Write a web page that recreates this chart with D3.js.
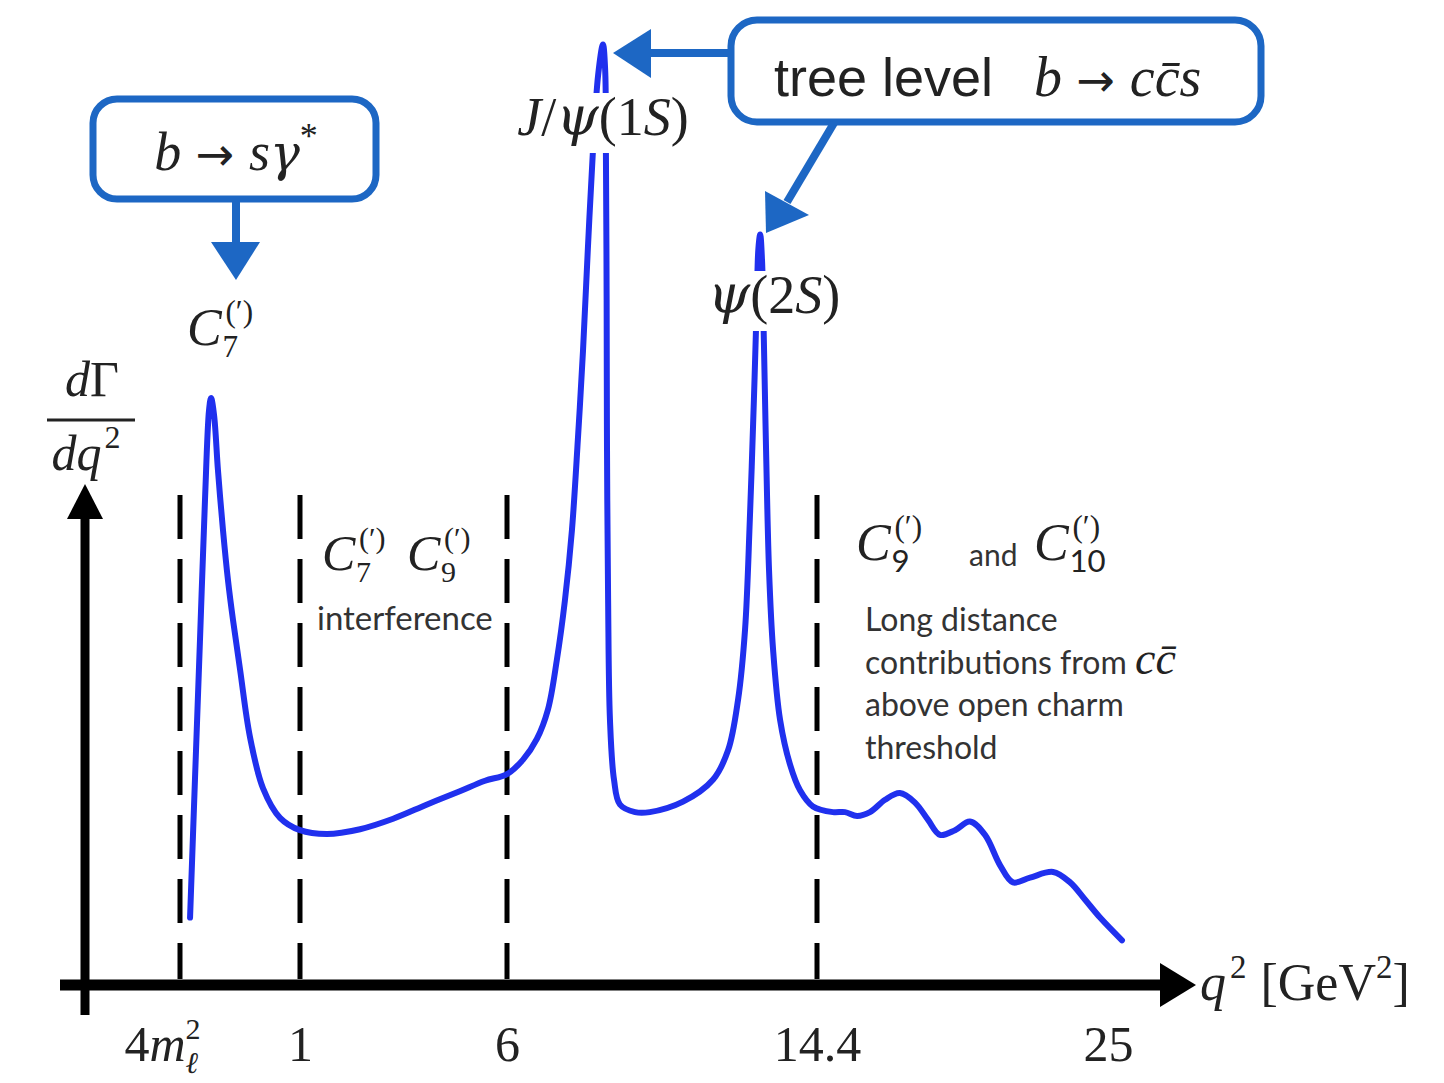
<!DOCTYPE html>
<html>
<head>
<meta charset="utf-8">
<script src="https://cdn.jsdelivr.net/npm/d3@7"></script>
<style>
  body { margin: 0; background: #fff; }
  .math { font-family: "Liberation Serif", serif; font-style: italic; fill: #222; }
  .greek { font-family: "DejaVu Serif", serif; font-style: italic; fill: #222; }
  .rm { font-family: "Liberation Serif", serif; font-style: normal; fill: #222; }
  .arr { font-family: "DejaVu Sans", sans-serif; font-style: normal; fill: #222; }
  .sans { font-family: "Lato", sans-serif; fill: #333; }
</style>
</head>
<body>
<div class="chart"></div>
<script>
// q^2 positions of the tick marks (not to scale in the sketch)
var tickQ2 = [0.045, 1, 6, 14.4, 25];
var tickLabels = ["4m", "1", "6", "14.4", "25"];
var binEdges = [0.045, 1, 6, 14.4];

// schematic dGamma/dq^2 curve (arbitrary units 0-100)
var q2 = [0.125, 0.164, 0.204, 0.244, 0.276, 0.292, 0.316, 0.347, 0.387, 0.427, 0.467, 0.523, 0.602, 0.706, 0.841,
  1.0, 1.65, 2.45, 3.25, 4.07, 4.86, 5.47, 6.0,
  6.43, 6.81, 7.11, 7.35, 7.57, 7.76, 7.92, 8.06, 8.19, 8.33, 8.47, 8.60,
  8.66, 8.68, 8.70, 8.71, 8.74, 8.79, 8.90, 9.06, 9.47, 9.87, 10.77, 11.58,
  11.99, 12.26, 12.45, 12.58, 12.69, 12.77, 12.81, 12.86,
  12.91, 12.96, 13.02, 13.10, 13.21, 13.40, 13.67, 13.94, 14.29,
  14.98, 15.42, 15.86, 16.33, 16.88, 17.42, 17.97, 18.44, 18.88, 19.43, 19.97, 20.52,
  21.07, 21.54, 22.16, 23.00, 23.62, 24.16, 24.71, 25.51];
var rate = [7.1, 21.6, 36.3, 51.1, 60.5, 61.8, 60.0, 54.2, 47.9, 42.6, 38.4, 33.2, 26.1, 20.7, 17.6,
  16.3, 15.9, 16.4, 17.5, 19.0, 20.4, 21.5, 22.2,
  23.7, 25.9, 29.0, 34.2, 40.5, 47.9, 57.4, 66.8, 77.4, 87.9, 95.8, 99.0,
  96.3, 87.9, 72.1, 56.3, 40.5, 27.9, 21.6, 19.0, 18.2, 18.2, 19.3, 21.6,
  24.7, 30.0, 37.4, 49.0, 61.6, 72.1, 77.4, 79.0,
  76.3, 67.9, 56.3, 43.7, 35.3, 27.9, 23.2, 20.5, 18.8,
  18.2, 18.2, 17.8, 18.2, 19.5, 20.2, 19.2, 17.4, 15.8, 16.3, 17.2, 15.8,
  12.6, 10.8, 11.3, 11.9, 10.8, 9.0, 7.1, 4.7];

var curveData = q2.map(function(q, i) { return {q: q, v: rate[i]}; });

var svgWidth = 1444;
var svgHeight = 1083;
var boxBlue = "#1d67c4";
var curveBlue = "#2030ee";

var svg = d3.select(".chart")
  .append("svg")
  .attr("width", svgWidth)
  .attr("height", svgHeight)
  .style("background", "#fff");

// piecewise scale, like the sketch
var xScale = d3.scaleLinear()
  .domain(tickQ2)
  .range([180, 300, 507, 817, 1108]);

var yScale = d3.scaleLinear()
  .domain([0, 100])
  .range([985, 35]);

var axisY = yScale(0);
var axisX = 85;

// dashed bin edges
svg.selectAll(".edge")
  .data(binEdges)
  .enter()
  .append("line")
  .attr("class", "edge")
  .attr("x1", d => xScale(d))
  .attr("x2", d => xScale(d))
  .attr("y1", 495)
  .attr("y2", axisY - 6)
  .attr("stroke", "#000")
  .attr("stroke-width", 5)
  .attr("stroke-dasharray", "44,20");

// curve
var line = d3.line()
  .x(d => xScale(d.q))
  .y(d => yScale(d.v))
  .curve(d3.curveCatmullRom.alpha(0.5));

svg.append("path")
  .datum(curveData)
  .attr("d", line)
  .attr("fill", "none")
  .attr("stroke", curveBlue)
  .attr("stroke-width", 6)
  .attr("stroke-linecap", "round");

// x axis (thick arrow)
svg.append("line")
  .attr("x1", 60).attr("x2", 1165)
  .attr("y1", axisY).attr("y2", axisY)
  .attr("stroke", "#000").attr("stroke-width", 11);
svg.append("path")
  .attr("d", `M1160,${axisY - 22} L1196,${axisY} L1160,${axisY + 22} Z`)
  .attr("fill", "#000");

// y axis
svg.append("line")
  .attr("x1", axisX).attr("x2", axisX)
  .attr("y1", 1015).attr("y2", 512)
  .attr("stroke", "#000").attr("stroke-width", 9);
svg.append("path")
  .attr("d", `M${axisX - 18},519 L${axisX},484 L${axisX + 18},519 Z`)
  .attr("fill", "#000");

// tick labels
var xAxis = d3.axisBottom(xScale)
  .tickValues(tickQ2)
  .tickSize(0)
  .tickPadding(0)
  .tickFormat((d, i) => tickLabels[i]);

var axisG = svg.append("g")
  .attr("transform", `translate(0, ${axisY + 76})`)
  .call(xAxis);
axisG.select(".domain").remove();
axisG.selectAll("text")
  .attr("y", 0).attr("dy", 0)
  .attr("class", "rm")
  .style("font-size", "50px")
  .style("fill", "#222");
var firstTick = axisG.select(".tick text");
firstTick.text(null).attr("x", -18);
firstTick.append("tspan").text("4");
firstTick.append("tspan").attr("class", "math").text("m");
firstTick.append("tspan").attr("class", "rm").style("font-size", "30px").attr("dy", -22).text("2");
firstTick.append("tspan").attr("class", "math").style("font-size", "30px").attr("dx", -15).attr("dy", 34).text("ℓ");

// q^2 [GeV^2]
var qLab = svg.append("text").attr("x", 1200).attr("y", 1000).attr("class", "rm").style("font-size", "52px");
qLab.append("tspan").attr("class", "math").text("q");
qLab.append("tspan").style("font-size", "33px").attr("dx", 4).attr("dy", -22).text("2");
qLab.append("tspan").attr("dx", 14).attr("dy", 22).text("[GeV");
qLab.append("tspan").style("font-size", "33px").attr("dy", -22).text("2");
qLab.append("tspan").attr("dy", 22).text("]");

// dGamma / dq^2
svg.append("text").attr("x", 92).attr("y", 396).attr("text-anchor", "middle")
  .attr("class", "math").style("font-size", "50px")
  .html('d<tspan style="font-style:normal">Γ</tspan>');
svg.append("line").attr("x1", 47).attr("x2", 135).attr("y1", 420).attr("y2", 420)
  .attr("stroke", "#222").attr("stroke-width", 3);
var dq = svg.append("text").attr("x", 86).attr("y", 470).attr("text-anchor", "middle")
  .attr("class", "math").style("font-size", "50px");
dq.append("tspan").text("dq");
dq.append("tspan").attr("class", "rm").style("font-size", "32px").attr("dx", 3).attr("dy", -22).text("2");

// label C with stacked sub / sup
function coeff(g, x, y, size, sub, subFont) {
  g.append("text").attr("x", x).attr("y", y).attr("class", "math").style("font-size", size + "px").text("C");
  var w = size * 0.74;
  g.append("text").attr("x", x + w).attr("y", y - size * 0.44)
    .attr("class", "rm").style("font-size", (size * 0.6) + "px").text("(′)");
  g.append("text").attr("x", x + w - 3).attr("y", y + size * 0.24)
    .attr("class", "rm").style("font-size", (size * 0.6) + "px")
    .style("font-family", subFont || "Liberation Serif").text(sub);
}

var labels = svg.append("g");
coeff(labels, 187, 345, 52, "7");
coeff(labels, 322, 570, 50, "7");
coeff(labels, 407, 570, 50, "9");
coeff(labels, 856, 560, 52, "9", "Lato");
labels.append("text").attr("x", 969).attr("y", 566).attr("class", "sans").style("font-size", "30px").text("and");
coeff(labels, 1034, 560, 52, "10", "Lato");

labels.append("text").attr("x", 317).attr("y", 630).attr("class", "sans").style("font-size", "33px").text("interference");

var ldLines = ["Long distance", "contributions from", "above open charm", "threshold"];
labels.selectAll(".ld")
  .data(ldLines)
  .enter()
  .append("text")
  .attr("class", "sans ld")
  .attr("x", 865)
  .attr("y", (d, i) => 631 + i * 42.5)
  .style("font-size", "32px")
  .text(d => d);
var ccbar = labels.append("text").attr("x", 1135).attr("y", 674).attr("class", "math").style("font-size", "46px");
ccbar.append("tspan").text("c");
ccbar.append("tspan").text("c\u0304");

// resonance labels with white backing
function resLabel(x, y, parts) {
  var g = svg.append("g");
  var rect = g.append("rect").attr("fill", "#fff");
  var t = g.append("text").attr("x", x).attr("y", y).attr("text-anchor", "middle")
    .attr("class", "math").style("font-size", "54px");
  parts.forEach(function(p) {
    t.append("tspan").attr("class", p[1]).text(p[0]);
  });
  var bb = t.node().getBBox();
  rect.attr("x", bb.x - 4).attr("y", y - 42).attr("width", bb.width + 8).attr("height", 60);
}
resLabel(603, 135, [["J", "math"], ["/", "rm"], ["ψ", "greek"], ["(1", "rm"], ["S", "math"], [")", "rm"]]);
resLabel(774, 313, [["ψ", "greek"], ["(2", "rm"], ["S", "math"], [")", "rm"]]);

// callout boxes
svg.append("rect")
  .attr("x", 93).attr("y", 99).attr("width", 283).attr("height", 100).attr("rx", 24)
  .attr("fill", "#fff").attr("stroke", boxBlue).attr("stroke-width", 7);
var t1 = svg.append("text").attr("x", 236).attr("y", 170).attr("text-anchor", "middle")
  .attr("class", "math").style("font-size", "54px");
t1.append("tspan").text("b");
t1.append("tspan").attr("class", "arr").style("font-size", "46px").text(" → ");
t1.append("tspan").text("s");
t1.append("tspan").attr("class", "greek").style("font-size", "50px").text("γ");
t1.append("tspan").attr("class", "rm").style("font-size", "36px").attr("dy", -22).text("*");

svg.append("line").attr("x1", 236).attr("x2", 236).attr("y1", 200).attr("y2", 245)
  .attr("stroke", boxBlue).attr("stroke-width", 8);
svg.append("path").attr("d", "M211,242 L260,242 L236,280 Z").attr("fill", boxBlue);

svg.append("rect")
  .attr("x", 731).attr("y", 20).attr("width", 530).attr("height", 102).attr("rx", 26)
  .attr("fill", "#fff").attr("stroke", boxBlue).attr("stroke-width", 7);
svg.append("text").attr("x", 774).attr("y", 96)
  .style("font-family", "Liberation Sans, sans-serif").style("font-size", "54px").style("fill", "#222")
  .text("tree level");
var t2 = svg.append("text").attr("x", 1034).attr("y", 96).attr("class", "math").style("font-size", "56px");
t2.append("tspan").text("b");
t2.append("tspan").attr("class", "arr").style("font-size", "46px").text(" → ");
t2.append("tspan").text("cc\u0304s");

svg.append("line").attr("x1", 731).attr("x2", 648).attr("y1", 53).attr("y2", 53)
  .attr("stroke", boxBlue).attr("stroke-width", 8);
svg.append("path").attr("d", "M651,29 L613,53 L651,78 Z").attr("fill", boxBlue);

svg.append("line").attr("x1", 834).attr("x2", 787).attr("y1", 123).attr("y2", 202)
  .attr("stroke", boxBlue).attr("stroke-width", 8);
svg.append("path").attr("d", "M765,191 L809,215 L766,233 Z").attr("fill", boxBlue);
</script>
</body>
</html>
